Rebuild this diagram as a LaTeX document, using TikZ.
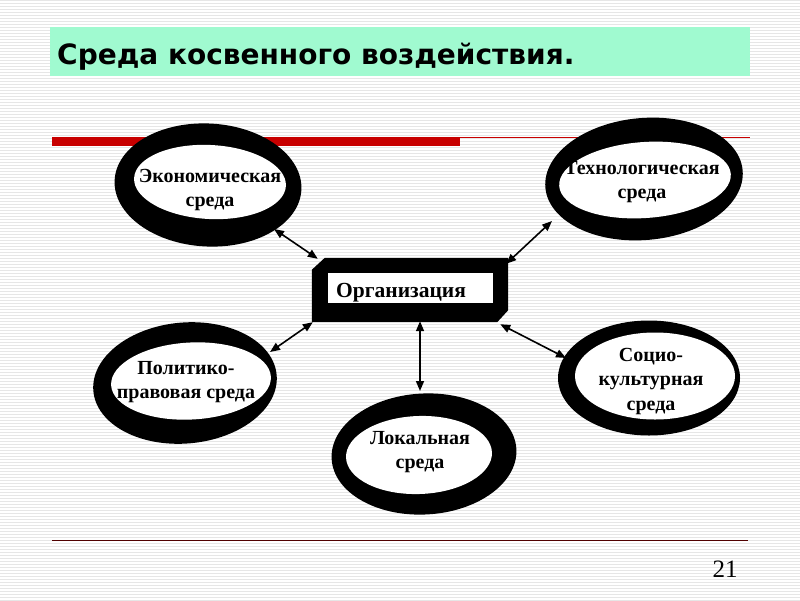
\documentclass[tikz,border=0pt]{standalone}
\usepackage{fontspec}
\setmainfont{Liberation Serif}
\newfontfamily\titlefont{DejaVu Sans}
\usetikzlibrary{shapes.geometric,arrows.meta}
\definecolor{mint}{HTML}{A0FAD0}
\definecolor{redbar}{HTML}{C80000}
\definecolor{stripe}{HTML}{E6E6E6}
\tikzset{
  ringout/.style={ellipse, fill=black, inner sep=0pt},
  ringin/.style={ellipse, fill=white, inner sep=0pt},
  ringtext/.style={align=center, inner sep=0pt, font=\fontsize{20}{24.5}\selectfont\bfseries},
  link/.style={line width=1.6pt, {Triangle[length=10pt,width=8pt]}-{Triangle[length=10pt,width=8pt]}}
}
\begin{document}
\begin{tikzpicture}[x=1pt,y=-1pt]
\useasboundingbox (0,0) rectangle (800,600);
\fill[white] (0,0) rectangle (800,600);
\foreach \k in {0,3,...,600} \draw[stripe, line width=1pt] (0,\k) -- (800,\k);
% title
\node[fill=mint, minimum width=700pt, minimum height=49pt, inner sep=0pt] (titlebox) at (400,51.5) {};
\node[anchor=west, inner sep=0pt, font=\titlefont\bfseries\fontsize{28}{30}\selectfont] (title) at (57,57) {Среда косвенного воздействия.};
% red lines
\fill[redbar] (52,137) rectangle (460,146);
\draw[redbar, line width=0.8pt] (460,137.5) -- (750,137.5);
\draw[black!60!redbar, line width=1pt] (52,540) -- (748,540);
\node[font=\fontsize{25}{26}\selectfont, inner sep=0pt] (pnum) at (725,569) {21};
% rings
\node[ringout, minimum width=187pt, minimum height=123pt, rotate=-3] (econ) at (208,185) {};
\node[ringin, minimum width=152pt, minimum height=74pt, rotate=-3] (econi) at (210,182) {};
\node[ringtext] (econt) at (210,190) {Экономическая\\среда};

\node[ringout, minimum width=198pt, minimum height=122pt, rotate=5] (tech) at (644,179) {};
\node[ringin, minimum width=172pt, minimum height=76pt, rotate=4] (techi) at (645,180) {};
\node[ringtext] (techt) at (642,182) {Технологическая\\среда};

\node[ringout, minimum width=184pt, minimum height=121pt, rotate=5] (polit) at (185,383) {};
\node[ringin, minimum width=160pt, minimum height=77pt, rotate=3] (politi) at (191,381) {};
\node[ringtext] (politt) at (186,382) {Политико-\\правовая среда};

\node[ringout, minimum width=182pt, minimum height=115pt] (socio) at (649,378) {};
\node[ringin, minimum width=160pt, minimum height=87pt] (socioi) at (655,376) {};
\node[ringtext] (sociot) at (651,381) {Социо-\\культурная\\среда};

\node[ringout, minimum width=185pt, minimum height=121pt, rotate=3] (local) at (424,454) {};
\node[ringin, minimum width=146pt, minimum height=78pt, rotate=2] (locali) at (419,455) {};
\node[ringtext] (localt) at (420,452) {Локальная\\среда};
% organization box
\node[inner sep=0pt, minimum width=196pt, minimum height=64pt] (orgbox) at (410,290) {};
\fill[black] ([yshift=-12pt]orgbox.north west) -- ([xshift=13pt]orgbox.north west) -- (orgbox.north east)
  -- ([yshift=12pt]orgbox.south east) -- ([xshift=-11pt]orgbox.south east) -- (orgbox.south west) -- cycle;
\node[fill=white, inner sep=0pt, minimum width=165pt, minimum height=30pt] (org) at (410.5,288) {};
\node[font=\fontsize{21.5}{24}\selectfont\bfseries, anchor=west, inner sep=0pt] (orgt) at (336,293) {Организация};
% connectors
\coordinate (ea) at (274,229);
\coordinate (ta) at (552,221);
\coordinate (pa) at (270,352);
\coordinate (sa) at (566,358);
\coordinate (la) at (420,391);
\draw[link] (ea) -- ([xshift=6pt,yshift=-1pt]orgbox.north west);
\draw[link] (ta) -- ([xshift=-2pt,yshift=-6pt]orgbox.north east);
\draw[link] (pa) -- ([xshift=1pt]orgbox.south west);
\draw[link] (sa) -- ([xshift=-8pt,yshift=-2pt]orgbox.south east);
\draw[link] (la) -- ([xshift=10pt,yshift=1pt]orgbox.south);
\end{tikzpicture}
\end{document}
